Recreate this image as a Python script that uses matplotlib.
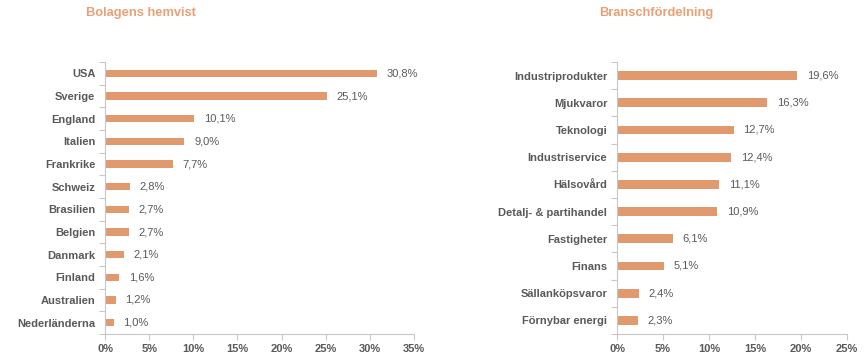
import matplotlib.pyplot as plt
import numpy as np
from matplotlib.ticker import FixedLocator

plt.rcParams['font.family'] = ['Liberation Sans', 'DejaVu Sans']

countries = ["USA", "Sverige", "England", "Italien", "Frankrike", "Schweiz", "Brasilien",
             "Belgien", "Danmark", "Finland", "Australien", "Nederländerna"]
country_vals = [30.8, 25.1, 10.1, 9.0, 7.7, 2.8, 2.7, 2.7, 2.1, 1.6, 1.2, 1.0]

sectors = ["Industriprodukter", "Mjukvaror", "Teknologi", "Industriservice", "Hälsovård",
           "Detalj- & partihandel", "Fastigheter", "Finans", "Sällanköpsvaror", "Förnybar energi"]
sector_vals = [19.6, 16.3, 12.7, 12.4, 11.1, 10.9, 6.1, 5.1, 2.4, 2.3]

left_ticks = [0, 5, 10, 15, 20, 25, 30, 35]
right_ticks = [0, 5, 10, 15, 20, 25]

bar_color = '#E09A6E'
title_color = '#E9A076'
text_color = '#595959'
axis_color = '#C8C8C8'

fig = plt.figure(figsize=(8.66, 3.64), dpi=100)
ax1 = fig.add_axes([105/866, 30/364, (414-105)/866, (334-62)/364])
ax2 = fig.add_axes([617/866, 30/364, (847-617)/866, (334-62)/364])

def draw(ax, cats, vals, ticks, title, title_x):
    n = len(cats)
    y = np.arange(n)
    ax.barh(y, vals, height=0.32, color=bar_color)
    ax.set_ylim(n - 0.5, -0.5)
    ax.set_xlim(ticks[0], ticks[-1])
    ax.set_yticks(y)
    ax.set_yticklabels(cats, fontsize=8, fontweight='bold', color=text_color)
    ax.yaxis.set_minor_locator(FixedLocator(np.arange(-0.5, n, 1.0)))
    ax.tick_params(axis='y', which='major', length=0, pad=7)
    ax.tick_params(axis='y', which='minor', length=4, color=axis_color, width=0.8)
    ax.set_xticks(ticks)
    ax.set_xticklabels([f"{t}%" for t in ticks], fontsize=8, fontweight='bold', color=text_color)
    ax.tick_params(axis='x', length=4, color=axis_color, width=0.8, pad=3)
    for s in ['top', 'right']:
        ax.spines[s].set_visible(False)
    for s in ['left', 'bottom']:
        ax.spines[s].set_color(axis_color)
        ax.spines[s].set_linewidth(0.8)
    for yi, v in zip(y, vals):
        ax.annotate(f"{v:.1f}%".replace('.', ','), xy=(v, yi), xytext=(7, 0),
                    textcoords='offset points', va='center', ha='left',
                    fontsize=8, color=text_color)
    fig.text(title_x / 866, 1 - 13 / 364, title, ha='center', va='center', fontsize=9.3,
             fontweight='bold', color=title_color)

draw(ax1, countries, country_vals, left_ticks, "Bolagens hemvist", 141)
draw(ax2, sectors, sector_vals, right_ticks, "Branschfördelning", 656)

fig.savefig('out.png', dpi=100)
